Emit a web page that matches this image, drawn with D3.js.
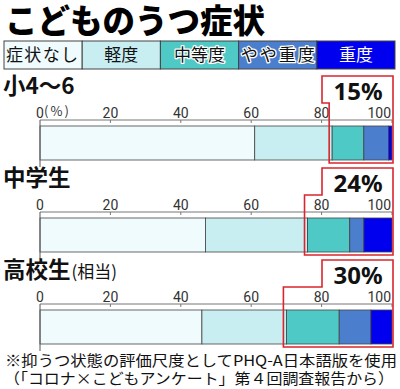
<!DOCTYPE html>
<html>
<head>
<meta charset="utf-8">
<script src="https://cdn.jsdelivr.net/npm/d3@7"></script>
<style>
  html, body { margin: 0; padding: 0; background: #fff; }
  svg { display: block; font-family: "Noto Sans CJK JP", "Noto Sans", sans-serif; }
</style>
</head>
<body>
<svg id="chart" width="400" height="389"></svg>
<script>
// data
const title = "こどものうつ症状";
const levels = ["症状なし", "軽度", "中等度", "やや重度", "重度"];
const levelColors = ["#effbfd", "#c9eef1", "#4fc9c6", "#4b7ecd", "#0000ee"];
const levelText = ["#111", "#111", "#111", "#111", "#fff"];
const groups = ["小4〜6", "中学生", "高校生"];
const groupNotes = ["", "", "(相当)"];
const shares = [
    [61, 22, 9, 7, 1],
    [47, 29, 12, 4, 8],
    [46, 24, 15, 9, 6]
];
const depressed = [15, 24, 30];
const ticks = [0, 20, 40, 60, 80, 100];
const notes = [
    "※抑うつ状態の評価尺度としてPHQ-A日本語版を使用",
    "（「コロナ×こどもアンケート」第４回調査報告から）"
];

const svg = d3.select('#chart');
const x = d3.scaleLinear().domain([0, 100]).range([40, 392]);
const panelY = d3.scaleBand().domain(groups).range([120, 396]).paddingInner(0);
const barGap = 6, barH = 34;

// title
svg.append('text')
    .attr('x', 5).attr('y', 33)
    .attr('font-size', 32.5).attr('font-weight', 900)
    .attr('fill', '#000')
    .text(title);

// legend
const legW = (395 - 4) / levels.length;
const leg = svg.append('g').attr('class', 'legend');
levels.forEach((lv, i) => {
    leg.append('rect')
        .attr('x', 4 + i * legW).attr('y', 41)
        .attr('width', legW).attr('height', 28)
        .attr('fill', levelColors[i])
        .attr('stroke', '#444').attr('stroke-width', 1);
    const t = leg.append('text')
        .attr('x', 4 + i * legW + legW / 2).attr('y', 61)
        .attr('text-anchor', 'middle')
        .attr('font-size', 17)
        .attr('fill', levelText[i])
        .text(lv);
    if (i === 0) t.attr('x', 6).attr('text-anchor', 'start').attr('textLength', 72);
    if (i === 2 || i === 3) {
        t.attr('stroke', '#fff').attr('stroke-width', 2.5)
            .attr('paint-order', 'stroke').attr('stroke-linejoin', 'round');
    }
    if (i === 3) t.attr('textLength', 74);
});

// panels
groups.forEach((g, gi) => {
    const ay = panelY(g);
    const p = svg.append('g').attr('class', 'panel');
    const top = ay + barGap, bot = top + barH;

    // group label
    const lab = p.append('text')
        .attr('x', 3).attr('y', ay - 26)
        .attr('font-size', 22.5).attr('font-weight', 700)
        .attr('fill', '#111');
    lab.append('tspan').text(g);
    if (groupNotes[gi]) lab.append('tspan').attr('font-size', 17).attr('font-weight', 400).attr('dx', 1).text(groupNotes[gi]);

    // stacked segments
    let acc = 0;
    const segs = shares[gi].map((v, i) => {
        const s = { x0: acc, x1: acc + v, i };
        acc += v;
        return s;
    });
    p.selectAll('rect.seg').data(segs).enter().append('rect')
        .attr('class', 'seg')
        .attr('x', d => x(d.x0)).attr('y', top)
        .attr('width', d => x(d.x1) - x(d.x0)).attr('height', barH)
        .attr('fill', d => levelColors[d.i])
        .attr('stroke', '#444').attr('stroke-width', 0.8);

    // axis
    p.append('line')
        .attr('x1', x(0)).attr('x2', x(100))
        .attr('y1', ay).attr('y2', ay)
        .attr('stroke', '#777').attr('stroke-width', 1);
    p.append('line')
        .attr('x1', x(0)).attr('x2', x(0))
        .attr('y1', ay).attr('y2', bot + 7)
        .attr('stroke', '#555').attr('stroke-width', 1);
    p.selectAll('line.tick').data(ticks.slice(1)).enter().append('line')
        .attr('class', 'tick')
        .attr('x1', d => x(d)).attr('x2', d => x(d))
        .attr('y1', ay).attr('y2', ay + 3)
        .attr('stroke', '#777');
    p.selectAll('text.tl').data(ticks).enter().append('text')
        .attr('class', 'tl')
        .attr('x', d => d === 100 ? x(d) - 1 : x(d))
        .attr('y', ay - 2)
        .attr('text-anchor', d => d === 100 ? 'end' : 'middle')
        .attr('font-size', 14).attr('font-family', 'Roboto, "Liberation Sans", sans-serif')
        .attr('fill', '#333')
        .text(d => d);
    if (gi === 0) {
        p.append('text')
            .attr('x', x(0) + 4).attr('y', ay - 4)
            .attr('font-size', 13).attr('fill', '#333')
            .attr('textLength', 25)
            .text('(%)');
    }

    // red frame round the depressed share
    const lx = x(segs[1].x1) - 3;
    const ux = 322, rx = 393, ty = ay - 44, jy = ay - 17, by = bot + 3;
    p.append('path')
        .attr('d', `M${ux},${ty} H${rx} V${by} H${lx} V${jy} H${ux} Z`)
        .attr('fill', 'none')
        .attr('stroke', '#d7262e').attr('stroke-width', 1.6);

    p.append('text')
        .attr('x', 358).attr('y', ay - 20)
        .attr('text-anchor', 'middle')
        .attr('font-size', 24).attr('font-weight', 700)
        .attr('font-family', '"Noto Sans", "DejaVu Sans", sans-serif')
        .attr('fill', '#111')
        .text(depressed[gi] + '%');
});

// footnote
svg.append('text')
    .attr('x', 5).attr('y', 366)
    .attr('font-size', 15).attr('fill', '#111')
    .attr('textLength', 392).attr('lengthAdjust', 'spacingAndGlyphs')
    .text(notes[0]);
svg.append('text')
    .attr('x', 4).attr('y', 384)
    .attr('font-size', 15).attr('fill', '#111')
    .attr('textLength', 390).attr('lengthAdjust', 'spacingAndGlyphs')
    .text(notes[1]);
</script>
</body>
</html>
